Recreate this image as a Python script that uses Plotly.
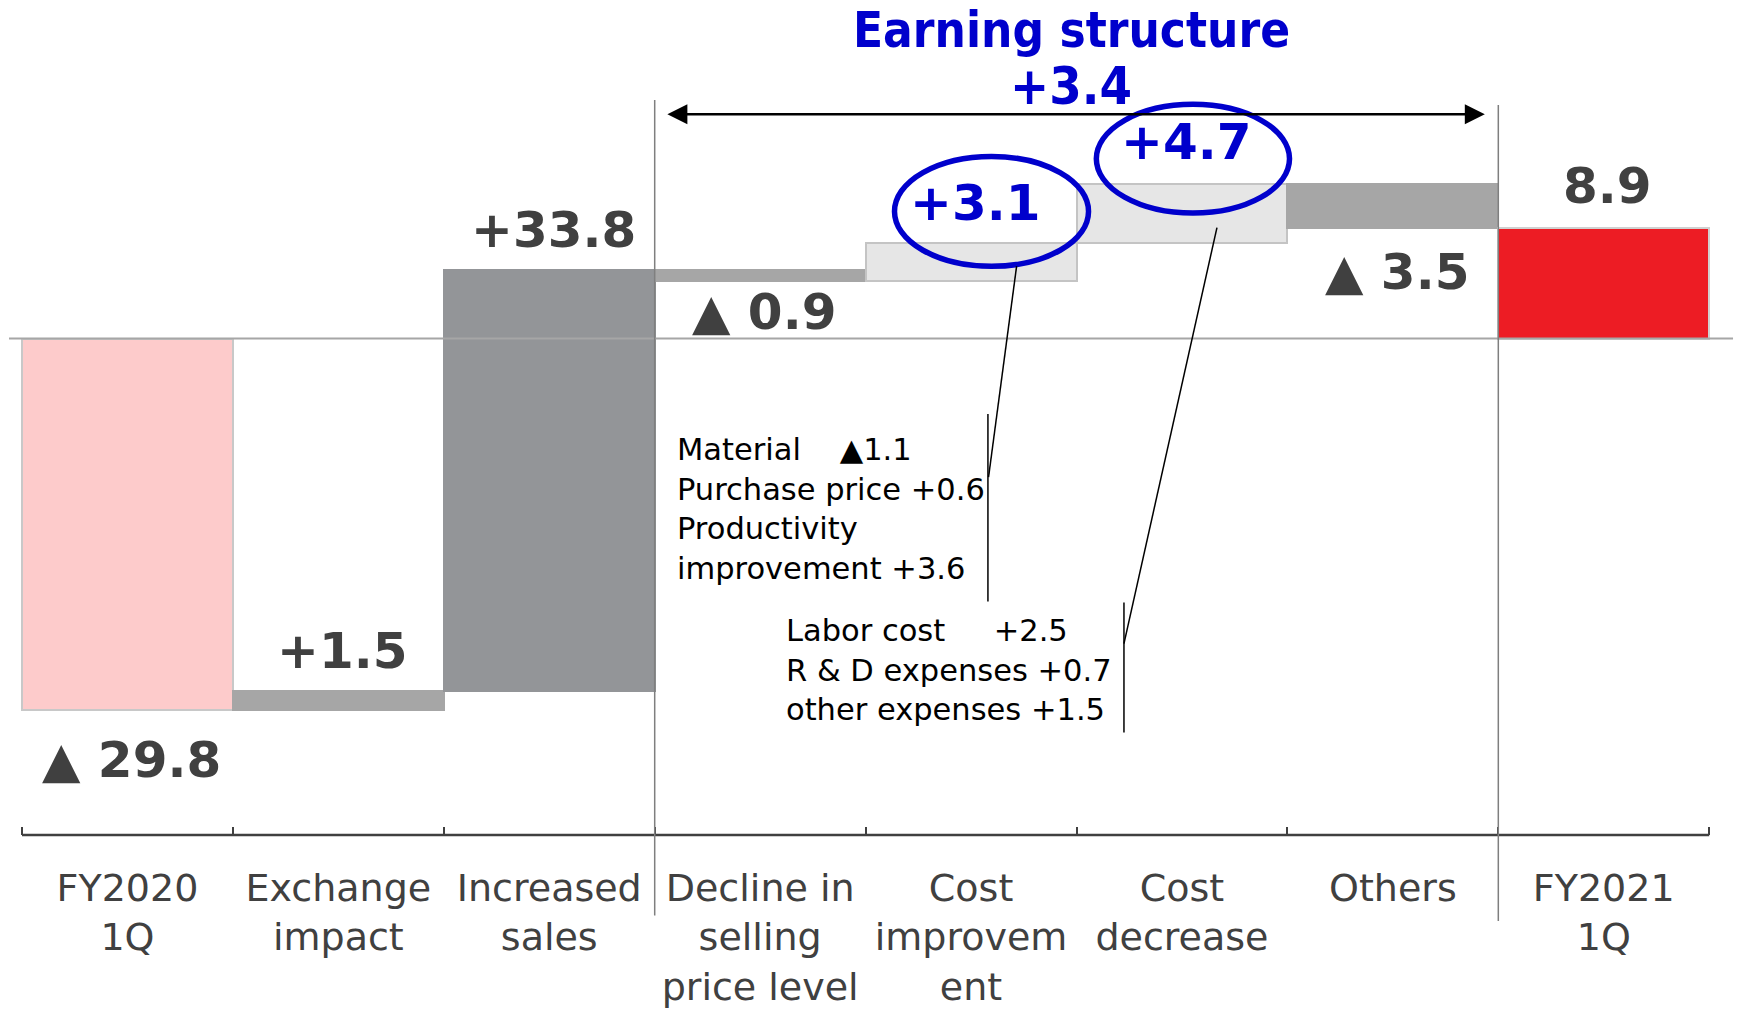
import plotly.graph_objects as go

# ---------------- data ----------------
categories = ["FY2020<br>1Q", "Exchange<br>impact", "Increased<br>sales",
              "Decline in<br>selling<br>price level", "Cost<br>improvem<br>ent",
              "Cost<br>decrease", "Others", "FY2021<br>1Q"]
values = [-29.8, 1.5, 33.8, -0.9, 3.1, 4.7, -3.5, 8.9]
is_total = [True, False, False, False, False, False, False, True]
value_labels = ["▲ 29.8", "+1.5", "+33.8", "▲ 0.9", "+3.1", "+4.7", "▲ 3.5", "8.9"]
highlighted = [False, False, False, False, True, True, False, False]
structure_title = "Earning structure"
structure_range = (3, 7)          # categories making up the earning structure
cost_improvement_notes = ["Material\u00a0\u00a0\u00a0\u00a0▲1.1", "Purchase price +0.6",
                          "Productivity", "improvement +3.6"]
cost_decrease_notes = ["Labor cost\u00a0\u00a0\u00a0\u00a0\u00a0+2.5", "R & D expenses +0.7",
                       "other expenses +1.5"]

# ---------------- styles ----------------
bar_colors = ["#FDCBCB", "#A6A6A6", "#939598", "#A6A6A6",
              "#E6E6E6", "#E6E6E6", "#A6A6A6", "#ED1C24"]
bar_line_colors = ["#C8C8C8", "#A6A6A6", "#939598", "#A6A6A6",
                   "#C4C4C4", "#C4C4C4", "#A6A6A6", "#D0D0D0"]
label_shift = [-50, 40, 40, -31, 40, 42, -44, 42]   # px offset of value labels
BLUE = "#0000CC"
DARK = "#404040"
COND = "DejaVu Sans Condensed, DejaVu Sans, sans-serif"
REG = "DejaVu Sans, Verdana, sans-serif"

# waterfall bases
bases = []
running = 0.0
for v, t in zip(values, is_total):
    if t:
        bases.append(0.0)
        running = v
    else:
        bases.append(running)
        running += v
ends = [b + v for b, v in zip(bases, values)]

fig = go.Figure()
fig.add_trace(go.Bar(
    x=categories, y=values, base=bases, width=1.0,
    marker=dict(color=bar_colors, line=dict(color=bar_line_colors, width=2)),
    hoverinfo="skip", showlegend=False,
))

annotations = []
for i, (lab, e, hl, sh) in enumerate(zip(value_labels, ends, highlighted, label_shift)):
    annotations.append(dict(
        x=i, y=e, xref="x", yref="y", text=lab, showarrow=False,
        yshift=sh, xshift=4,
        font=dict(family=REG, size=50, color=BLUE if hl else DARK, weight=700),
    ))

s0, s1 = structure_range
structure_sum = sum(values[s0:s1])
annotations.append(dict(x=4.474, y=24.70, xref="x", yref="y", text=structure_title,
                        showarrow=False,
                        font=dict(family=COND, size=49, color=BLUE, weight=700)))
annotations.append(dict(x=4.474, y=20.25, xref="x", yref="y", text=f"{structure_sum:+.1f}",
                        showarrow=False,
                        font=dict(family=COND, size=52, color=BLUE, weight=700)))
# double-headed arrow spanning the earning structure
annotations.append(dict(x=6.436, y=17.98, ax=2.553, ay=17.98, xref="x", yref="y",
                        axref="x", ayref="y", text="", showarrow=True,
                        arrowside="end+start", arrowhead=2, startarrowhead=2,
                        arrowsize=1.6, startarrowsize=1.6, arrowwidth=2.5,
                        arrowcolor="#000000", standoff=0, startstandoff=0))
# notes
annotations.append(dict(x=2.596, y=-13.7, xref="x", yref="y", xanchor="left",
                        yanchor="middle", align="left",
                        text="<br>".join(cost_improvement_notes), showarrow=False,
                        font=dict(family=REG, size=30.5, color="#000000")))
annotations.append(dict(x=3.115, y=-26.56, xref="x", yref="y", xanchor="left",
                        yanchor="middle", align="left",
                        text="<br>".join(cost_decrease_notes), showarrow=False,
                        font=dict(family=REG, size=30.5, color="#000000")))

shapes = [
    # zero line
    dict(type="line", xref="x", yref="y", x0=-0.5616, x1=7.613, y0=0, y1=0,
         line=dict(color="#A6A6A6", width=2), layer="above"),
    # axis line
    dict(type="line", xref="x", yref="paper", x0=-0.5, x1=7.5, y0=0, y1=0,
         line=dict(color=DARK, width=2.5), layer="above"),
    # separators
    dict(type="line", xref="x", yref="paper", x0=2.5, x1=2.5, y0=-0.0964, y1=0.8802,
         line=dict(color="#7F7F7F", width=1.5), layer="above"),
    dict(type="line", xref="x", yref="paper", x0=6.5, x1=6.5, y0=-0.1030, y1=0.8743,
         line=dict(color="#7F7F7F", width=1.5), layer="above"),
    # ellipses
    dict(type="circle", xref="x", yref="y", x0=3.637, x1=4.557, y0=5.79, y1=14.60,
         line=dict(color=BLUE, width=5.5), layer="above"),
    dict(type="circle", xref="x", yref="y", x0=4.594, x1=5.510, y0=10.06, y1=18.78,
         line=dict(color=BLUE, width=5.5), layer="above"),
    # callout lines
    dict(type="line", xref="x", yref="y", x0=4.080, x1=4.080, y0=-6.06, y1=-21.09,
         line=dict(color="#000000", width=1.5), layer="above"),
    dict(type="line", xref="x", yref="y", x0=4.216, x1=4.083, y0=5.81, y1=-11.11,
         line=dict(color="#000000", width=1.5), layer="above"),
    dict(type="line", xref="x", yref="y", x0=4.725, x1=4.725, y0=-21.17, y1=-31.6,
         line=dict(color="#000000", width=1.5), layer="above"),
    dict(type="line", xref="x", yref="y", x0=5.166, x1=4.725, y0=8.90, y1=-24.47,
         line=dict(color="#000000", width=1.5), layer="above"),
]

fig.update_layout(
    width=1740, height=1011,
    margin=dict(l=0, r=0, t=0, b=176, autoexpand=False),
    paper_bgcolor="white", plot_bgcolor="white",
    bargap=0, showlegend=False,
    xaxis=dict(type="category", range=[-0.6043, 7.646], tickson="boundaries",
               ticks="inside", ticklen=8, tickwidth=2, tickcolor=DARK,
               showline=False, showgrid=False, zeroline=False,
               tickfont=dict(family=REG, size=38, color=DARK),
               ticklabelstandoff=27, fixedrange=True),
    yaxis=dict(range=[-39.82, 27.15], visible=False, fixedrange=True),
    annotations=annotations, shapes=shapes,
)

fig.write_html("out.html",
               config={"displayModeBar": False},
               post_script="document.body.style.margin='0';"
                           "document.body.style.overflow='hidden';")
